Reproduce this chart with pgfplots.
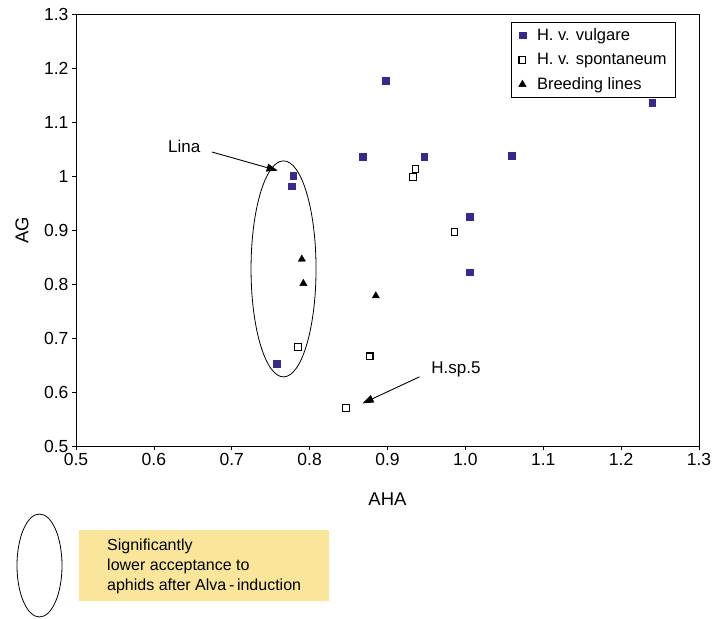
\documentclass[border=0pt]{standalone}
\usepackage{fontspec}
\setmainfont{Liberation Sans}
\usepackage{pgfplots}
\pgfplotsset{compat=1.18}
\usetikzlibrary{arrows.meta}
\definecolor{vulg}{RGB}{58,40,140}
\definecolor{boxyellow}{RGB}{249,230,155}
\begin{document}
\begin{tikzpicture}[x=1pt,y=1pt]
\useasboundingbox (-76,-172) rectangle (638,446);
\begin{axis}[
  at={(0,0)}, anchor=south west,
  width=623pt, height=432pt, scale only axis,
  xmin=0.5, xmax=1.3, ymin=0.5, ymax=1.3,
  xtick={0.5,0.6,...,1.31}, ytick={0.5,0.6,...,1.31},
  xticklabel style={font=\fontsize{17.5}{20}\selectfont,
    /pgf/number format/fixed, /pgf/number format/fixed zerofill, /pgf/number format/precision=1},
  yticklabel style={font=\fontsize{17.5}{20}\selectfont,
    /pgf/number format/fixed, /pgf/number format/precision=1},
  /pgf/number format/assume math mode=true,
  tick align=outside, xtick pos=left, ytick pos=left,
  major tick length=4pt,
  axis line style={line width=0.8pt},
  tick style={black, line width=0.6pt},
  xlabel={AHA}, ylabel={AG},
  label style={font=\fontsize{18.5}{21}\selectfont},
  xlabel style={at={(axis description cs:0.5,-0.1227)}, anchor=center},
  ylabel style={at={(axis description cs:-0.0867,0.5)}, anchor=center},
  legend style={at={(0.699,0.981)}, anchor=north west, draw=black, line width=0.6pt,
    font=\fontsize{16.5}{19}\selectfont, row sep=7.5pt, inner xsep=7pt, inner ysep=4pt},
  legend cell align=left,
  clip=false,
]
\addplot[only marks, mark=square*, mark size=3.4pt, mark options={draw=vulg, fill=vulg}]
coordinates {(0.898,1.176)(1.240,1.136)(0.868,1.036)(0.947,1.036)(1.059,1.038)
(0.779,1.000)(0.777,0.981)(1.006,0.924)(1.006,0.822)(0.758,0.652)};
\addlegendentry{\hspace{9pt}H. v. vulgare}
\addplot[only marks, mark=square*, mark size=3.4pt, mark options={draw=black, fill=white, line width=1.1pt}]
coordinates {(0.936,1.013)(0.933,0.998)(0.986,0.896)(0.785,0.683)(0.877,0.666)(0.847,0.571)};
\addlegendentry{\hspace{9pt}H. v. spontaneum}
\addplot[only marks, mark=triangle*, mark size=4.2pt, mark options={draw=black, fill=black}]
coordinates {(0.790,0.846)(0.792,0.801)(0.885,0.778)};
\addlegendentry{\hspace{9pt}Breeding lines}

\draw[line width=0.8pt] (axis cs:0.7665,0.828) ellipse [x radius=32.5pt, y radius=108pt];
\node[font=\fontsize{17}{20}\selectfont] at (axis cs:0.639,1.0556) {Lina};
\draw[line width=0.9pt, -{Triangle[length=11pt,width=8pt]}] (axis cs:0.6746,1.0444) -- (axis cs:0.759,1.010);
\node[font=\fontsize{17}{20}\selectfont] at (axis cs:0.988,0.641) {H.sp.5};
\draw[line width=0.9pt, -{Triangle[length=11pt,width=8pt]}] (axis cs:0.941,0.628) -- (axis cs:0.868,0.579);
\end{axis}
% bottom legend (image px -> tikz: x-76, 446-y)
\draw[line width=0.8pt] (-36.5,-119.5) ellipse [x radius=22.5, y radius=51.5];
\fill[boxyellow] (3,-155) rectangle (253,-84);
\node[anchor=north west, align=left, inner sep=0pt, font=\fontsize{16}{20}\selectfont] at (31,-93)
{Significantly\\lower acceptance to\\aphids after Alva\,-\,induction};
\end{tikzpicture}
\end{document}
